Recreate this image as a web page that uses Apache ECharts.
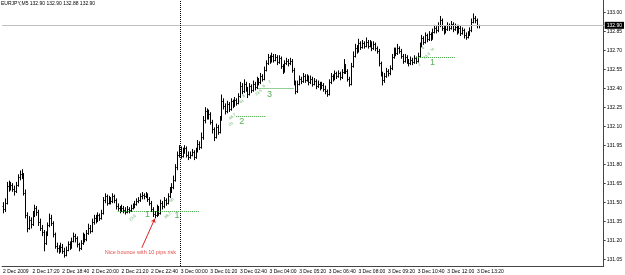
<!DOCTYPE html>
<html>
<head>
<meta charset="utf-8">
<script src="https://cdn.jsdelivr.net/npm/echarts@6/dist/echarts.min.js"></script>
<style>html,body{margin:0;padding:0;background:#fff}#chart{width:625px;height:275px}</style>
</head>
<body>
<div id="chart"></div>
<script>
// EURJPY M5, 2 Dec 16:00 -> 3 Dec 13:25, one value per 5 minute bar
const symbolTitle = 'EURJPY,M5 132.90 132.90 132.88 132.90';
const firstOpen = 131.47;
const closes = [
  131.45,131.50,131.63,131.62,131.64,131.61,131.59,131.64,131.70,131.73,
  131.72,131.58,131.40,131.30,131.36,131.33,131.40,131.46,131.43,131.35,
  131.30,131.27,131.18,131.25,131.32,131.38,131.34,131.25,131.16,131.14,
  131.12,131.15,131.12,131.09,131.13,131.17,131.15,131.20,131.24,131.22,
  131.17,131.14,131.18,131.24,131.21,131.26,131.30,131.28,131.35,131.38,
  131.36,131.40,131.38,131.42,131.52,131.55,131.50,131.53,131.51,131.55,
  131.52,131.47,131.46,131.44,131.46,131.44,131.43,131.45,131.44,131.46,
  131.47,131.49,131.51,131.52,131.55,131.56,131.55,131.56,131.53,131.50,
  131.45,131.41,131.40,131.46,131.42,131.50,131.47,131.52,131.50,131.55,
  131.60,131.62,131.68,131.78,131.88,131.92,131.87,131.91,131.93,131.88,
  131.86,131.88,131.90,131.86,131.91,131.96,131.94,132.02,132.15,132.22,
  132.18,132.20,132.14,132.08,132.02,132.10,132.06,132.16,132.30,132.26,
  132.22,132.28,132.24,132.30,132.27,132.31,132.29,132.34,132.42,132.38,
  132.44,132.40,132.36,132.42,132.39,132.44,132.41,132.47,132.45,132.50,
  132.48,132.55,132.60,132.65,132.62,132.66,132.63,132.65,132.61,132.64,
  132.58,132.54,132.60,132.62,132.60,132.62,132.55,132.45,132.38,132.44,
  132.48,132.46,132.50,132.47,132.49,132.45,132.48,132.44,132.46,132.42,
  132.44,132.41,132.43,132.40,132.38,132.36,132.45,132.50,132.48,132.52,
  132.50,132.52,132.49,132.53,132.58,132.54,132.48,132.44,132.58,132.66,
  132.72,132.70,132.76,132.73,132.76,132.74,132.77,132.74,132.76,132.72,
  132.75,132.72,132.70,132.60,132.52,132.47,132.50,132.54,132.52,132.56,
  132.65,132.70,132.68,132.72,132.70,132.66,132.62,132.65,132.62,132.60,
  132.63,132.61,132.64,132.62,132.66,132.74,132.80,132.77,132.82,132.79,
  132.83,132.80,132.85,132.88,132.86,132.90,132.94,132.88,132.85,132.87,
  132.90,132.88,132.91,132.87,132.89,132.85,132.88,132.84,132.86,132.82,
  132.81,132.83,132.86,132.93,132.96,132.94,132.90,132.90
];
const highs = [
  131.50,131.53,131.66,131.67,131.66,131.65,131.63,131.66,131.72,131.75,
  131.76,131.73,131.60,131.42,131.39,131.38,131.43,131.48,131.47,131.44,
  131.37,131.32,131.28,131.27,131.34,131.41,131.40,131.35,131.26,131.18,
  131.16,131.18,131.17,131.14,131.15,131.19,131.19,131.22,131.26,131.25,
  131.23,131.18,131.20,131.26,131.25,131.28,131.33,131.32,131.37,131.40,
  131.40,131.42,131.41,131.44,131.54,131.57,131.56,131.55,131.54,131.57,
  131.56,131.53,131.49,131.47,131.48,131.47,131.46,131.47,131.46,131.48,
  131.49,131.51,131.53,131.54,131.57,131.58,131.57,131.58,131.57,131.54,
  131.51,131.46,131.43,131.48,131.47,131.52,131.51,131.54,131.53,131.57,
  131.62,131.65,131.71,131.80,131.90,131.95,131.94,131.93,131.95,131.94,
  131.90,131.90,131.92,131.91,131.93,131.99,131.98,132.05,132.18,132.25,
  132.24,132.23,132.21,132.15,132.09,132.12,132.11,132.18,132.35,132.32,
  132.28,132.30,132.29,132.32,132.31,132.33,132.32,132.36,132.45,132.44,
  132.47,132.45,132.41,132.44,132.43,132.46,132.45,132.49,132.48,132.52,
  132.51,132.57,132.62,132.67,132.66,132.68,132.67,132.67,132.66,132.66,
  132.65,132.59,132.62,132.64,132.63,132.64,132.63,132.56,132.46,132.46,
  132.50,132.49,132.52,132.51,132.51,132.50,132.50,132.49,132.48,132.47,
  132.46,132.45,132.45,132.44,132.42,132.39,132.47,132.52,132.51,132.54,
  132.53,132.54,132.53,132.55,132.63,132.59,132.55,132.49,132.60,132.69,
  132.75,132.74,132.79,132.77,132.78,132.77,132.80,132.78,132.78,132.77,
  132.77,132.76,132.73,132.71,132.61,132.53,132.52,132.56,132.55,132.58,
  132.67,132.72,132.72,132.75,132.73,132.71,132.67,132.67,132.66,132.63,
  132.65,132.64,132.66,132.65,132.68,132.76,132.82,132.81,132.84,132.83,
  132.85,132.84,132.87,132.90,132.89,132.92,132.97,132.95,132.89,132.89,
  132.92,132.91,132.93,132.92,132.91,132.90,132.90,132.89,132.88,132.87,
  132.84,132.85,132.88,132.95,132.99,132.97,132.95,132.90
];
const lows = [
  131.42,131.43,131.49,131.59,131.60,131.59,131.56,131.58,131.63,131.68,
  131.69,131.56,131.38,131.27,131.29,131.30,131.32,131.39,131.40,131.32,
  131.28,131.24,131.12,131.17,131.24,131.31,131.32,131.23,131.14,131.11,
  131.10,131.11,131.10,131.07,131.08,131.12,131.13,131.14,131.19,131.19,
  131.15,131.12,131.13,131.17,131.19,131.20,131.25,131.26,131.27,131.33,
  131.34,131.35,131.36,131.37,131.41,131.50,131.48,131.49,131.49,131.50,
  131.50,131.45,131.44,131.42,131.43,131.42,131.41,131.42,131.42,131.43,
  131.45,131.46,131.48,131.50,131.51,131.53,131.53,131.54,131.51,131.48,
  131.43,131.39,131.38,131.39,131.40,131.41,131.45,131.46,131.48,131.49,
  131.54,131.58,131.61,131.67,131.76,131.86,131.85,131.86,131.89,131.86,
  131.84,131.85,131.87,131.84,131.85,131.90,131.92,131.93,132.00,132.13,
  132.16,132.16,132.12,132.05,131.99,132.01,132.04,132.05,132.15,132.24,
  132.20,132.21,132.22,132.23,132.25,132.26,132.27,132.28,132.33,132.36,
  132.37,132.38,132.33,132.35,132.37,132.38,132.39,132.40,132.43,132.44,
  132.46,132.47,132.54,132.59,132.60,132.61,132.61,132.62,132.59,132.60,
  132.56,132.52,132.53,132.59,132.58,132.59,132.53,132.43,132.36,132.37,
  132.43,132.44,132.45,132.45,132.46,132.43,132.44,132.42,132.43,132.40,
  132.41,132.39,132.40,132.38,132.36,132.34,132.35,132.44,132.46,132.47,
  132.48,132.49,132.47,132.48,132.52,132.52,132.46,132.42,132.43,132.57,
  132.65,132.68,132.69,132.71,132.72,132.72,132.73,132.72,132.73,132.70,
  132.71,132.70,132.68,132.58,132.50,132.43,132.45,132.49,132.50,132.51,
  132.55,132.64,132.66,132.67,132.68,132.64,132.60,132.61,132.60,132.58,
  132.59,132.59,132.60,132.60,132.61,132.65,132.73,132.75,132.76,132.77,
  132.78,132.78,132.79,132.84,132.84,132.85,132.89,132.86,132.83,132.84,
  132.86,132.86,132.87,132.85,132.86,132.83,132.84,132.82,132.83,132.80,
  132.79,132.80,132.82,132.85,132.92,132.92,132.88,132.88
];
const timeLabels = ['2 Dec 2009','2 Dec 17:20','2 Dec 18:40','2 Dec 20:00','2 Dec 21:20','2 Dec 22:40',
  '3 Dec 00:00','3 Dec 01:20','3 Dec 02:40','3 Dec 04:00','3 Dec 05:20','3 Dec 06:40','3 Dec 08:00',
  '3 Dec 09:20','3 Dec 10:40','3 Dec 12:00','3 Dec 13:20'];
const priceTicks = [131.05,131.20,131.35,131.50,131.65,131.80,131.95,132.10,132.25,132.40,132.55,132.70,132.85,133.00];
const bidPrice = 132.90;
const daySeparator = 96;      // first bar of 3 Dec
const slotCount = 325;        // bars + empty chart shift on the right
const labelStep = 16;

// drawn levels: [fromBar, toBar, price]
const levelLines = [[62,106,131.43],[126,142,132.18],[138,157,132.40],[223,244,132.645]];
// level names: [bar, price, text]
const levelNames = [[78,131.41,'1'],[94,131.40,'1'],[129,132.14,'2'],[144,132.35,'3'],[232,132.605,'1']];
// small fib texts: [bar, price, text]
const fibTexts = [[70,131.38,'23.6'],[89,131.40,'38.2'],[91,131.52,'50'],
  [124,132.18,'46.7'],[123,132.12,'20'],[129,132.30,'61'],[130,132.34,'8'],
  [138,132.37,'23.5'],[141,132.42,'8'],[144,132.455,'2'],
  [227,132.72,'4'],[229,132.66,'23.5'],[225,132.59,'2'],[232,132.71,'%']];
const noteText = [[55,131.11,'Nice bounce with 10 pips risk']];
const arrowLine = [[75,131.144],[82,131.373]];

const slots = Array.from({length: slotCount}, (_, i) => String(i));
const bars = closes.map((c, i) => [i, i === 0 ? firstOpen : closes[i - 1], c, lows[i], highs[i]]);
const showLabel = idx => idx % labelStep === 0 && idx / labelStep < timeLabels.length;
const green = '#2e9a2e';

function renderBar(params, api) {
  const i = api.value(0);
  const hi = api.coord([i, api.value(4)]);
  const lo = api.coord([i, api.value(3)]);
  const op = api.coord([i, api.value(1)]);
  const cl = api.coord([i, api.value(2)]);
  const x = Math.round(hi[0]) + 0.5;
  const st = {stroke: '#000', lineWidth: 1};
  const oy = Math.round(op[1]) + 0.5, cy = Math.round(cl[1]) + 0.5;
  return {type: 'group', children: [
    {type: 'line', shape: {x1: x, y1: hi[1] - 0.5, x2: x, y2: lo[1] + 0.5}, style: st},
    {type: 'line', shape: {x1: x - 1, y1: oy, x2: x, y2: oy}, style: st},
    {type: 'line', shape: {x1: x, y1: cy, x2: x + 1, y2: cy}, style: st}
  ]};
}

const textFont = 'Liberation Sans';
const chart = echarts.init(document.getElementById('chart'), null, {renderer: 'canvas'});
chart.setOption({
  animation: false,
  backgroundColor: '#fff',
  title: {text: symbolTitle, left: 1, top: 1, padding: 0,
    textStyle: {fontSize: 5, fontWeight: 'normal', color: '#000', fontFamily: textFont}},
  grid: {left: 0, right: 20, top: 0, bottom: 9},
  xAxis: {
    type: 'category', data: slots, boundaryGap: true,
    axisLine: {lineStyle: {color: '#444'}},
    axisTick: {alignWithLabel: true, length: 2, interval: showLabel, lineStyle: {color: '#444'}},
    axisLabel: {interval: showLabel, formatter: (v, idx) => timeLabels[idx / labelStep] || '',
      align: 'left', fontSize: 5, color: '#000', margin: 3, fontFamily: textFont},
    splitLine: {show: false}
  },
  yAxis: {
    type: 'value', position: 'right', min: 131.0, max: 133.1,
    axisLine: {show: true, lineStyle: {color: '#444'}},
    axisTick: {show: true, length: 2, customValues: priceTicks, lineStyle: {color: '#444'}},
    axisLabel: {customValues: priceTicks, formatter: v => v.toFixed(2), fontSize: 5, margin: 3,
      color: '#000', fontFamily: textFont},
    splitLine: {show: false}
  },
  series: [
    {
      type: 'custom', renderItem: renderBar, data: bars,
      encode: {x: 0, y: [1, 2, 3, 4]}, silent: true,
      markLine: {
        silent: true, symbol: 'none', animation: false,
        data: [
          {yAxis: bidPrice, lineStyle: {color: '#c0c0c0', type: 'solid', width: 1},
            label: {show: true, position: 'end', distance: 1, formatter: bidPrice.toFixed(2),
              backgroundColor: '#000', color: '#fff', fontSize: 5, padding: [1, 2], fontFamily: textFont}},
          {xAxis: daySeparator, lineStyle: {color: '#000', type: 'dotted', width: 1}, label: {show: false}},
          ...levelLines.map(l => [
            {coord: [l[0], l[2]], lineStyle: {color: green, type: 'dotted', width: 1}, label: {show: false}},
            {coord: [l[1], l[2]]}
          ]),
          [
            {coord: arrowLine[0], symbol: 'none', lineStyle: {color: '#d22', type: 'solid', width: 1}, label: {show: false}},
            {coord: arrowLine[1], symbol: 'arrow', symbolSize: 4}
          ]
        ]
      }
    },
    {
      type: 'scatter', data: levelNames, symbolSize: 0, silent: true,
      label: {show: true, position: 'inside', formatter: p => p.data[2], color: green, fontSize: 9, fontFamily: textFont}
    },
    {
      type: 'scatter', data: fibTexts, symbolSize: 0, silent: true,
      label: {show: true, position: 'inside', rotate: 40, formatter: p => p.data[2], color: green, fontSize: 4, fontFamily: textFont}
    },
    {
      type: 'scatter', data: noteText, symbolSize: 0, silent: true,
      label: {show: true, position: 'right', distance: 0, formatter: p => p.data[2], color: '#d22', fontSize: 5.5, fontFamily: textFont}
    }
  ]
});
</script>
</body>
</html>
